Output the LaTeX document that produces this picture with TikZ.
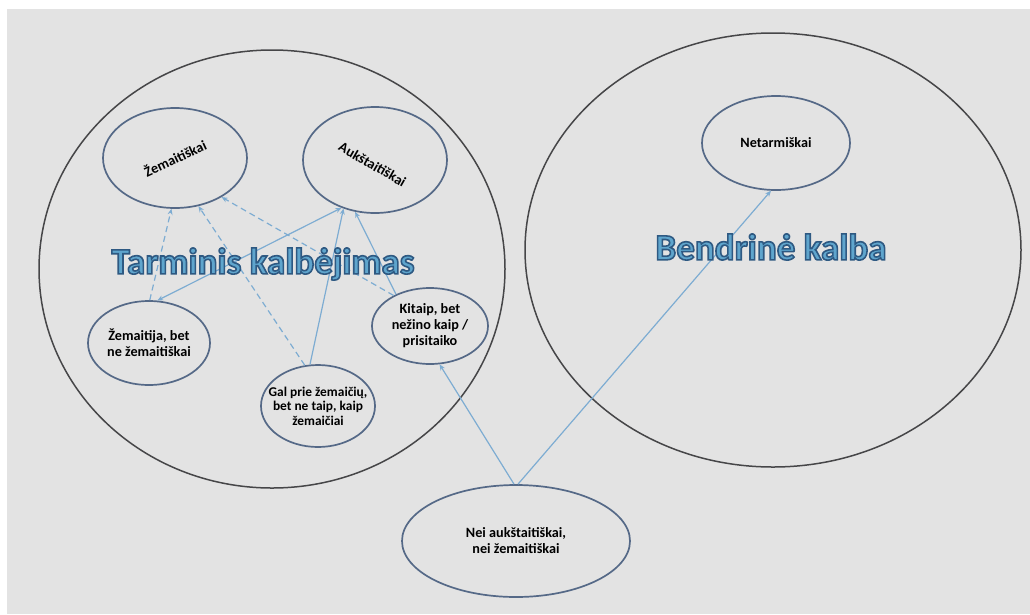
\documentclass[tikz,border=0pt]{standalone}
\usepackage{fontspec}
\setmainfont{Carlito}
\usetikzlibrary{shapes.geometric,arrows.meta}
\definecolor{bg}{RGB}{227,227,227}
\definecolor{bigline}{RGB}{70,70,72}
\definecolor{smline}{RGB}{85,105,135}
\definecolor{conn}{RGB}{125,172,210}
\definecolor{titlefill}{RGB}{95,165,205}
\tikzset{
  bigell/.style={draw=bigline, line width=1.5pt, ellipse, inner sep=0pt},
  smell/.style={draw=smline, line width=1.7pt, ellipse, inner sep=0pt},
  smtext/.style={align=center, inner sep=0pt, font=\bfseries\fontsize{14.2}{16}\selectfont, text=black},
  conline/.style={draw=conn, line width=1.2pt, -{Stealth[length=6pt,width=5pt]}},
  condash/.style={conline, dash pattern=on 6pt off 4pt},
  titletext/.style={font=\bfseries\fontsize{37}{40}\selectfont}
}
\newcommand{\outlinedtitle}[1]{{\color{titlefill}\special{pdf:literal direct 2 Tr 1.6 w 0.18 0.35 0.51 RG}#1\special{pdf:literal direct 0 Tr 0.4 w}}}
\begin{document}
\begin{tikzpicture}[x=1pt,y=-1pt]
\useasboundingbox (0,0) rectangle (1030,614);
\fill[white] (0,0) rectangle (1030,614);
\fill[bg] (7,9) rectangle (1030,614);
% big ellipses
\node[bigell, minimum width=466pt, minimum height=438pt] (left) at (272,269) {};
\node[bigell, minimum width=496pt, minimum height=434pt] (right) at (773,250) {};
% small ellipses
\node[smell, minimum width=144pt, minimum height=100pt,
  label={[smtext, rotate=25]center:Žemaitiškai}] (zem) at (175,158) {};
\node[smell, minimum width=144pt, minimum height=106pt,
  label={[smtext, rotate=-30, yshift=-5pt]center:Aukštaitiškai}] (auk) at (375,160) {};
\node[smell, minimum width=122pt, minimum height=84pt,
  label={[smtext]center:Žemaitija, bet\\ne žemaitiškai}] (zija) at (149,343) {};
\node[smell, minimum width=114pt, minimum height=82pt,
  label={[smtext, font=\bfseries\fontsize{13.4}{14.5}\selectfont]center:Gal prie žemaičių,\\bet ne taip, kaip\\žemaičiai}] (gal) at (318,406) {};
\node[smell, minimum width=116pt, minimum height=76pt,
  label={[smtext]center:Kitaip, bet\\nežino kaip /\\prisitaiko}] (kit) at (430,326) {};
\node[smell, minimum width=228pt, minimum height=112pt,
  label={[smtext]center:Nei aukštaitiškai,\\nei žemaitiškai}] (nei) at (516,541) {};
\node[smell, minimum width=148pt, minimum height=94pt,
  label={[smtext]center:Netarmiškai}] (net) at (776,143) {};
% connectors
\draw[condash] (zija.89) -- (zem.266);
\draw[condash] (gal.108) -- (zem.296);
\draw[condash] (kit.140) -- (zem.320);
\draw[conline, {Stealth[length=6pt,width=5pt]}-{Stealth[length=6pt,width=5pt]}] (zija.79) -- (auk.235);
\draw[conline] (gal.101) -- (auk.237);
\draw[conline] (kit.137) -- (auk.249);
\draw[conline] (nei.92) -- (kit.284);
\draw[conline] (nei.88) -- (net.264);
% titles
\node[titletext] (t1) at (263,264) {\outlinedtitle{Tarminis kalbėjimas}};
\node[titletext] (t2) at (771,247) {\outlinedtitle{Bendrinė kalba}};
\end{tikzpicture}
\end{document}
